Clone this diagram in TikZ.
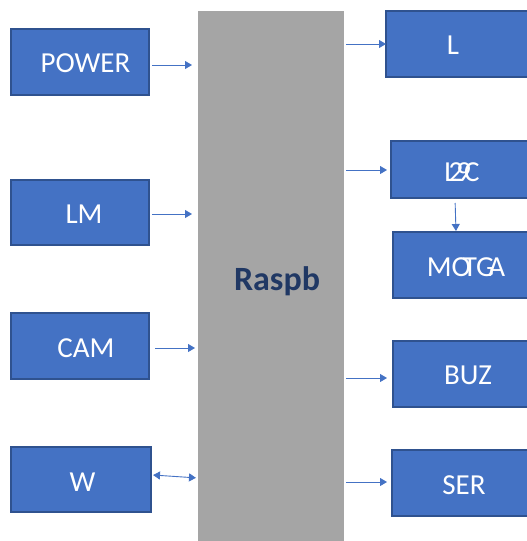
\documentclass[tikz,border=0pt]{standalone}
\usepackage{fontspec}
\setmainfont{Carlito}
\usetikzlibrary{arrows.meta}
\definecolor{boxblue}{HTML}{4472C4}
\definecolor{boxedge}{HTML}{2F528F}
\definecolor{graybox}{HTML}{A5A5A5}
\definecolor{navy}{HTML}{203864}
\tikzset{
  blk/.style={draw=boxedge, line width=1.5pt, fill=boxblue, inner sep=0pt, outer sep=0pt},
  lbl/.style={text=white, inner sep=0pt, text depth=0pt, font=\fontsize{29}{31}\selectfont},
  conn/.style={draw=boxblue, line width=0.9pt, -{Triangle[length=7pt,width=8pt]}},
  bconn/.style={draw=boxblue, line width=0.9pt, {Triangle[length=7pt,width=8pt]}-{Triangle[length=7pt,width=8pt]}}
}
\begin{document}
\begin{tikzpicture}[x=1pt,y=-1pt]
\useasboundingbox (0,0) rectangle (527,541);
\node[fill=graybox, inner sep=0pt, outer sep=0pt, minimum width=146pt, minimum height=530pt] (rpibox) at (271,276) {};
\node[anchor=base, text=navy, inner sep=0pt, font=\bfseries\fontsize{34}{36}\selectfont] (rpi) at (277,290) {Raspb};
% left boxes
\node[blk, minimum width=138pt, minimum height=66pt] (power) at (80,62) {};
\node[blk, minimum width=138pt, minimum height=65pt] (lm) at (80,212.5) {};
\node[blk, minimum width=138pt, minimum height=66pt] (cam) at (80,346) {};
\node[blk, minimum width=140pt, minimum height=65pt] (w) at (81,479.5) {};
% right boxes
\node[blk, minimum width=144pt, minimum height=66pt] (l) at (458,44) {};
\node[blk, minimum width=139pt, minimum height=57pt] (lc) at (460.5,169.5) {};
\node[blk, minimum width=137pt, minimum height=66pt] (mot) at (461.5,265) {};
\node[blk, minimum width=137pt, minimum height=66pt] (buz) at (461.5,374) {};
\node[blk, minimum width=138pt, minimum height=66pt] (ser) at (461,483) {};
% labels
\node[lbl] (tpower) at (85.5,63) {POWER};
\node[lbl] (tlm) at (84,214) {LM};
\node[lbl] (tcam) at (86,348) {CAM};
\node[lbl] (tw) at (82.5,482) {W};
\node[lbl] (tl) at (453,45.5) {L};
\node[lbl] (tlc) at (462,172.5) {L\kern-8pt 2\kern-7pt 9\kern-7pt C};
\node[lbl] (tmot) at (466,267) {MO\kern-8pt TG\kern-6pt A};
\node[lbl] (tbuz) at (468,375.5) {BUZ};
\node[lbl] (tser) at (464,485) {SER};
% connectors
\draw[conn, shorten >=6pt] ([xshift=3pt,yshift=-3pt]power.east) -- ([yshift=-3pt]power.east -| rpibox.west);
\draw[conn, shorten >=6pt] ([xshift=3pt,yshift=-1.5pt]lm.east) -- ([yshift=-1.5pt]lm.east -| rpibox.west);
\draw[conn, shorten >=3pt] ([xshift=6pt,yshift=-2pt]cam.east) -- ([yshift=-2pt]cam.east -| rpibox.west);
\draw[bconn, shorten >=2pt] ([xshift=2pt,yshift=4.5pt]w.east) -- ([yshift=1.5pt]w.east -| rpibox.west);
\draw[conn, shorten <=2pt] ([yshift=0pt]l.west -| rpibox.east) -- (l.west);
\draw[conn, shorten <=2pt, shorten >=4pt] ([yshift=-0.5pt]lc.west -| rpibox.east) -- ([yshift=-0.5pt]lc.west);
\draw[conn, shorten <=5pt, shorten >=1pt] ([xshift=-5.5pt]lc.south) -- ([xshift=-5.5pt]mot.north);
\draw[conn, shorten <=2pt, shorten >=6pt] ([yshift=-4pt]buz.west -| rpibox.east) -- ([yshift=-4pt]buz.west);
\draw[conn, shorten <=2pt, shorten >=5pt] ([yshift=1pt]ser.west -| rpibox.east) -- ([yshift=1pt]ser.west);
\end{tikzpicture}
\end{document}
